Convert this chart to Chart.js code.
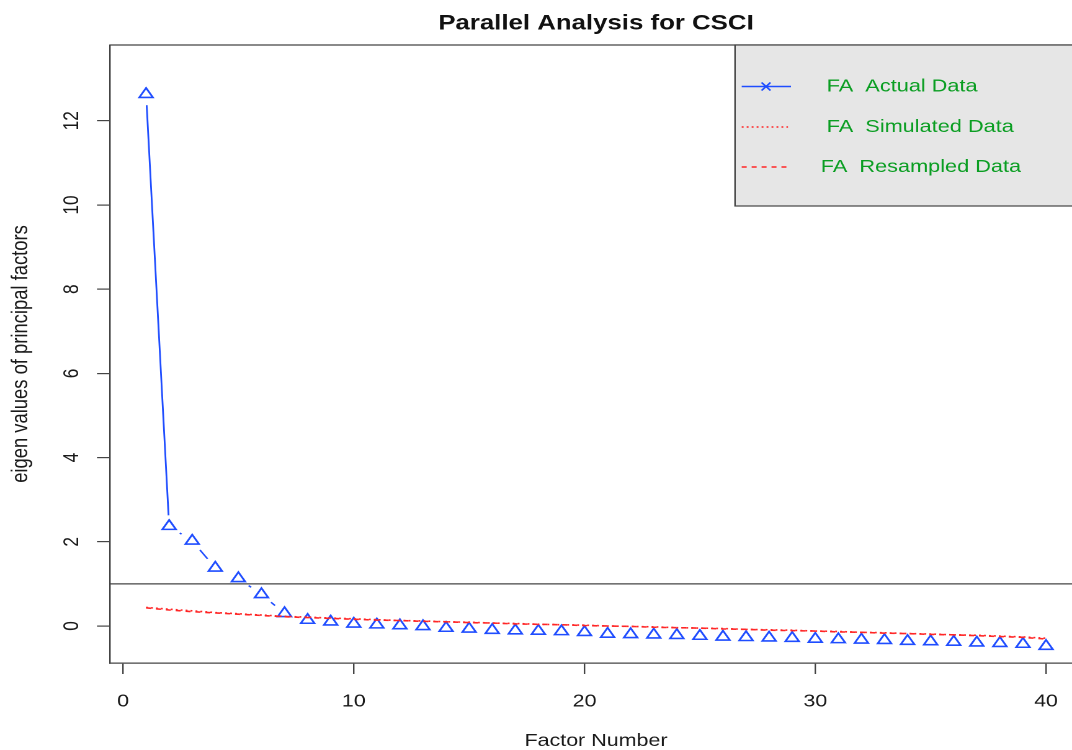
<!DOCTYPE html>
<html><head><meta charset="utf-8">
<script src="https://cdn.jsdelivr.net/npm/chart.js@4.4.1/dist/chart.umd.min.js"></script>
<style>
html,body{margin:0;padding:0;background:#fff;overflow:hidden;width:1072px;height:750px;}
#wrap{position:absolute;left:0;top:0;width:864px;height:750px;transform:scaleX(1.2407407);transform-origin:0 0;}
canvas{display:block;}
</style></head><body>
<div id="wrap"><canvas id="c" width="864" height="750"></canvas></div>
<script>
const titleText = 'Parallel Analysis for CSCI';
const xAxisTitle = 'Factor Number';
const yAxisTitle = 'eigen values of principal factors';
const legendLabels = ['FA  Actual Data', 'FA  Simulated Data', 'FA  Resampled Data'];
const factorNumbers = [1,2,3,4,5,6,7,8,9,10,11,12,13,14,15,16,17,18,19,20,21,22,23,24,25,26,27,28,29,30,31,32,33,34,35,36,37,38,39,40];
const actualData = [12.63, 2.37, 2.02, 1.38, 1.13, 0.75, 0.30, 0.14, 0.10, 0.05, 0.03, 0.01, -0.01, -0.05, -0.07, -0.10, -0.11, -0.12, -0.13, -0.15, -0.19, -0.20, -0.21, -0.22, -0.24, -0.26, -0.27, -0.28, -0.29, -0.31, -0.32, -0.33, -0.34, -0.36, -0.37, -0.38, -0.40, -0.41, -0.43, -0.48];
const simulatedData = [0.44, 0.40, 0.36, 0.32, 0.29, 0.26, 0.23, 0.21, 0.19, 0.17, 0.15, 0.13, 0.12, 0.10, 0.09, 0.07, 0.06, 0.04, 0.03, 0.02, 0.00, -0.01, -0.02, -0.04, -0.05, -0.06, -0.08, -0.09, -0.10, -0.12, -0.13, -0.15, -0.16, -0.18, -0.19, -0.21, -0.22, -0.24, -0.26, -0.29];
const resampledData = [0.43, 0.38, 0.34, 0.31, 0.28, 0.25, 0.22, 0.20, 0.18, 0.16, 0.14, 0.13, 0.11, 0.10, 0.08, 0.07, 0.05, 0.04, 0.03, 0.01, 0.00, -0.01, -0.03, -0.04, -0.05, -0.07, -0.08, -0.10, -0.11, -0.12, -0.14, -0.15, -0.17, -0.18, -0.20, -0.21, -0.23, -0.25, -0.27, -0.31];
const xTickValues = [0, 10, 20, 30, 40];
const yTickValues = [0, 2, 4, 6, 8, 10, 12];
const eigenThreshold = 1;

const FONT = '"Liberation Sans", Arial, Helvetica, sans-serif';
const BLUE = '#1f4dff', RED = '#ff2626', GREEN = '#0a9e22', AXIS = '#444', TXT = '#1a1a1a';
const PLOT_RIGHT = 872; // plot region extends past the canvas edge (cut off, as in the reference)
Chart.defaults.font.family = FONT;

const toPoints = arr => factorNumbers.map((f, i) => ({x: f, y: arr[i]}));

const extendPlot = {
  id: 'extendPlot',
  afterLayout(chart) {
    const a = chart.chartArea, x = chart.scales.x;
    a.right = PLOT_RIGHT; a.width = PLOT_RIGHT - a.left;
    x.right = PLOT_RIGHT; x.width = PLOT_RIGHT - x.left;
    x.configure();
    x._labelItems = null; x._gridLineItems = null;
    const t = chart.titleBlock;
    if (t) { t.right = PLOT_RIGHT; t.width = PLOT_RIGHT - t.left; }
  }
};

const frameAndLegend = {
  id: 'frameAndLegend',
  afterDraw(chart) {
    const {ctx, chartArea: a, scales: {y}} = chart;
    ctx.save();
    ctx.strokeStyle = AXIS; ctx.lineWidth = 1.2;
    ctx.beginPath(); ctx.moveTo(a.left, a.top); ctx.lineTo(a.right, a.top); ctx.stroke();
    const ty = y.getPixelForValue(eigenThreshold);
    ctx.beginPath(); ctx.moveTo(a.left, ty); ctx.lineTo(a.right, ty); ctx.stroke();
    // legend
    const L = 592.4, T = a.top, R = Math.max(a.right, 866) + 4, B = 206;
    ctx.fillStyle = '#e6e6e6'; ctx.fillRect(L, T, R - L, B - T);
    ctx.strokeRect(L, T, R - L, B - T);
    const items = [
      {y: 86.5, tx: 666.3, color: BLUE, dash: [], x2: 637.5, marker: true},
      {y: 127, tx: 666.3, color: RED, dash: [1.5, 2.5], x2: 635.1},
      {y: 167, tx: 661.5, color: RED, dash: [4, 4], x2: 637.5}
    ];
    items.forEach((it, i) => {
      ctx.save();
      ctx.strokeStyle = it.color; ctx.lineWidth = 1.4; ctx.setLineDash(it.dash);
      ctx.beginPath(); ctx.moveTo(597.8, it.y); ctx.lineTo(it.x2, it.y); ctx.stroke();
      ctx.setLineDash([]);
      if (it.marker) {
        const cx = 617.4, hx = 3.6, hy = 4;
        ctx.lineWidth = 1.5;
        ctx.beginPath();
        ctx.moveTo(cx - hx, it.y - hy); ctx.lineTo(cx + hx, it.y + hy);
        ctx.moveTo(cx - hx, it.y + hy); ctx.lineTo(cx + hx, it.y - hy);
        ctx.stroke();
      }
      ctx.fillStyle = GREEN; ctx.font = '17.5px ' + FONT;
      ctx.textBaseline = 'middle'; ctx.textAlign = 'left';
      ctx.fillText(legendLabels[i], it.tx, it.y);
      ctx.restore();
    });
    ctx.restore();
  }
};

new Chart(document.getElementById('c'), {
  type: 'scatter',
  data: {
    datasets: [
      {label: legendLabels[0], data: toPoints(actualData), showLine: true, borderColor: BLUE, borderWidth: 1.4, pointRadius: 0, order: 3},
      {label: 'gap', data: toPoints(actualData), showLine: false, pointStyle: 'circle', pointRadius: 11, pointBackgroundColor: '#ffffff', pointBorderWidth: 0, pointBorderColor: 'rgba(0,0,0,0)', order: 2},
      {label: 'points', data: toPoints(actualData), showLine: false, pointStyle: 'triangle', pointRadius: 6.3, pointBorderColor: BLUE, pointBackgroundColor: 'rgba(0,0,0,0)', pointBorderWidth: 1.6, order: 1},
      {label: legendLabels[1], data: toPoints(simulatedData), showLine: true, borderColor: RED, borderWidth: 1.6, borderDash: [1.5, 2.5], pointRadius: 0, order: 0},
      {label: legendLabels[2], data: toPoints(resampledData), showLine: true, borderColor: RED, borderWidth: 1.6, borderDash: [4, 4], pointRadius: 0, order: 0}
    ]
  },
  options: {
    responsive: false,
    maintainAspectRatio: false,
    devicePixelRatio: 2,
    animation: false,
    events: [],
    layout: {padding: 0},
    plugins: {
      legend: {display: false},
      tooltip: {enabled: false},
      title: {display: true, text: titleText, fullSize: false, color: '#111',
        font: {family: FONT, size: 20.8, weight: 'bold', lineHeight: 1},
        padding: {top: 13.4, bottom: 10.8}}
    },
    scales: {
      x: {
        type: 'linear', min: -0.563, max: 41.556,
        afterBuildTicks: s => { s.ticks = xTickValues.map(v => ({value: v})); },
        afterFit: s => { s.height = 87; s.paddingLeft = 0; s.paddingRight = 0; },
        ticks: {color: TXT, font: {family: FONT, size: 17.3, lineHeight: 1}, padding: 19, maxRotation: 0, autoSkip: false, callback: v => String(v)},
        grid: {display: true, drawOnChartArea: false, drawTicks: true, tickLength: 11, color: AXIS, lineWidth: 1.2},
        border: {display: true, color: AXIS, width: 1.2},
        title: {display: true, text: xAxisTitle, color: TXT, font: {family: FONT, size: 17.3, lineHeight: 1}, padding: {top: 0, bottom: 0}}
      },
      y: {
        type: 'linear', min: -0.879, max: 13.8,
        afterBuildTicks: s => { s.ticks = yTickValues.map(v => ({value: v})); },
        afterFit: s => { s.width = 88.66; s.paddingTop = 0; s.paddingBottom = 0; },
        ticks: {color: TXT, font: {family: FONT, size: 17.3, lineHeight: 1}, padding: 10.5, minRotation: 90, maxRotation: 90, crossAlign: 'center', autoSkip: false, callback: v => String(v)},
        grid: {display: true, drawOnChartArea: false, drawTicks: true, tickLength: 10.5, color: AXIS, lineWidth: 1.2},
        border: {display: true, color: AXIS, width: 1.2},
        title: {display: true, text: yAxisTitle, color: TXT, font: {family: FONT, size: 18.4, lineHeight: 1}, padding: {top: 7.8, bottom: 0}}
      }
    }
  },
  plugins: [extendPlot, frameAndLegend]
});
</script>
</body></html>
